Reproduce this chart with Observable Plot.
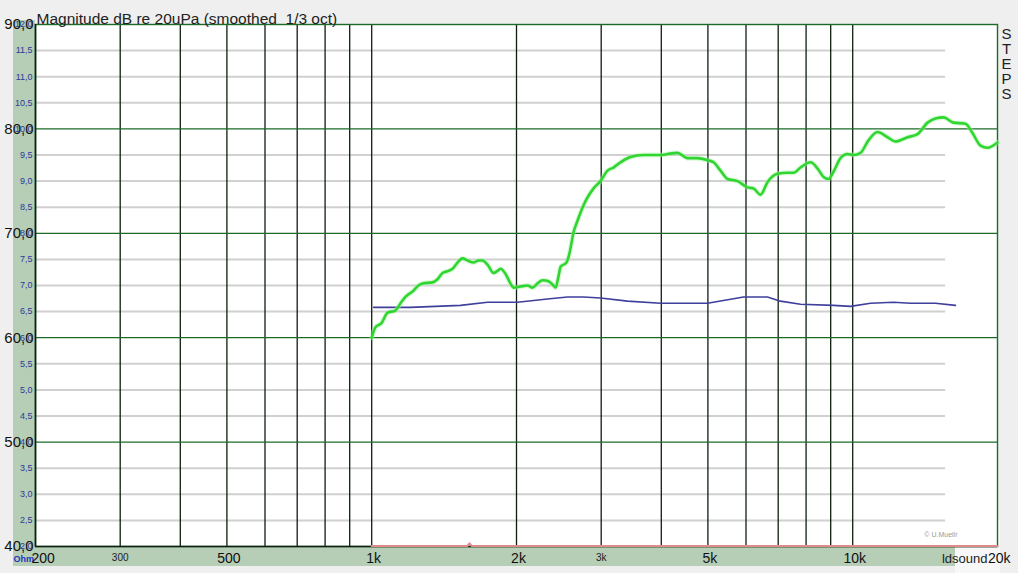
<!DOCTYPE html>
<html><head><meta charset="utf-8">
<script src="https://cdn.jsdelivr.net/npm/d3@7"></script>
<script src="https://cdn.jsdelivr.net/npm/@observablehq/plot@0.6"></script>
<style>
html,body{margin:0;padding:0;background:#efefef;}
#wrap{position:relative;width:1018px;height:573px;overflow:hidden;font-family:"Liberation Sans",Arial,sans-serif;}
.band{position:absolute;background:#b6cdb6;}
#chart{position:absolute;left:0;top:0;}
</style></head><body>
<div id="wrap">
<div class="band" style="left:13px;top:20px;width:22px;height:546px"></div>
<div class="band" style="left:13px;top:546px;width:942px;height:20px"></div>
<div style="position:absolute;left:955px;top:520px;width:45px;height:53px;background:#f8f8f8"></div>
<div id="chart"></div>
</div>
<script>
// Frequency response (green), smoothed 1/3 oct
const greenFreq = [1000,1018,1048,1079,1120,1148,1175,1221,1251,1275,1338,1370,1404,1444,1472,1508,1545,1582,1628,1667,1700,1741,1792,1826,1852,1898,1943,1971,2038,2108,2160,2212,2266,2332,2376,2411,2446,2470,2541,2578,2628,2678,2784,2892,2990,3092,3182,3290,3451,3673,3985,4121,4322,4535,4757,4991,5136,5311,5491,5762,6043,6218,6434,6650,6976,7320,7533,7789,8173,8451,8699,8905,9120,9433,9752,10036,10378,10784,11260,11814,12274,13003,13640,14308,14862,15444,16198,17160,17746,18438,19066,20000];
const greenDb = [60.0,61.0,61.4,62.4,62.6,63.3,63.9,64.5,65.0,65.2,65.3,65.6,66.2,66.4,66.6,67.2,67.6,67.4,67.2,67.4,67.4,67.0,66.2,66.4,66.6,66.1,65.2,64.8,64.9,65.0,64.8,65.2,65.5,65.4,65.1,64.8,65.9,66.8,67.2,68.1,70.1,71.2,73.1,74.3,75.0,76.0,76.3,76.8,77.3,77.5,77.5,77.6,77.7,77.2,77.2,77.0,76.8,76.0,75.2,75.0,74.4,74.3,73.7,74.9,75.7,75.8,75.8,76.3,76.8,76.2,75.4,75.2,75.9,77.2,77.6,77.5,77.7,78.9,79.7,79.2,78.8,79.2,79.5,80.6,81.0,81.1,80.6,80.5,79.6,78.4,78.2,78.7];
// Second curve (blue)
const blueFreq = [1009,1204,1530,1741,2010,2320,2553,2757,2990,3402,3985,4991,5930,6650,7077,7789,9120,9896,10890,12154,13190,14862,16354];
const blueDb = [62.9,62.9,63.1,63.4,63.4,63.7,63.9,63.9,63.8,63.5,63.3,63.3,63.9,63.9,63.5,63.2,63.1,63.0,63.3,63.4,63.3,63.3,63.1];
// Third trace at the floor (red)
const redFreq = [1000,1580,1597,1615,20000];
const redDb = [40.05,40.05,40.3,40.05,40.05];

// Grid and tick definitions
const vGridFreq = [300,400,500,600,700,800,900,1000,2000,3000,4000,5000,6000,7000,8000,9000,10000];
const majorDb = [80,70,60,50];
const minorDb = [87.5,85,82.5,77.5,75,72.5,67.5,65,62.5,57.5,55,52.5,47.5,45,42.5];
const leftDb = [90,80,70,60,50,40];
const leftLabels = ["90,0","80,0","70,0","60,0","50,0","40,0"];
const stepValues = [12.0,11.5,11.0,10.5,10.0,9.5,9.0,8.5,8.0,7.5,7.0,6.5,6.0,5.5,5.0,4.5,4.0,3.5,3.0,2.5,2.0];
const bigTickFreq = [500,1000,2000,5000,10000];
const bigTickLabels = ["500","1k","2k","5k","10k"];
const smallTickFreq = [300,3000];
const smallTickLabels = ["300","3k"];
const titleText = "Magnitude dB re 20uPa (smoothed  1/3 oct)";

const green = greenFreq.map((f,i)=>({f, db: greenDb[i]}));
const blue = blueFreq.map((f,i)=>({f, db: blueDb[i]}));
const red = redFreq.map((f,i)=>({f, db: redDb[i]}));
const stepToDb = v => 40 + (v - 2) * 5;

const chart = Plot.plot({
  width: 1018, height: 573,
  marginLeft: 35, marginRight: 21, marginTop: 24, marginBottom: 27,
  x: {type: "log", domain: [200, 20000], axis: null},
  y: {domain: [40, 90], axis: null},
  style: {background: "transparent", fontFamily: "Liberation Sans, Arial, sans-serif", overflow: "visible"},
  marks: [
    Plot.frame({fill: "white", stroke: null}),
    Plot.ruleY(minorDb, {x1: 200, x2: 15600, stroke: "#d0d0d0", strokeWidth: 2}),
    Plot.ruleX(vGridFreq, {stroke: "#0e1e0e", strokeWidth: 1.3}),
    Plot.ruleY(majorDb, {stroke: "#1c6a28", strokeWidth: 1.3}),
    Plot.frame({stroke: "#1c6a28", strokeWidth: 1.4}),
    Plot.ruleX([200], {stroke: "#0e1e0e", strokeWidth: 1.6}),
    Plot.ruleY([40], {stroke: "#0e1e0e", strokeWidth: 1.6}),
    Plot.line(red, {x: "f", y: "db", stroke: "#e08a8a", strokeWidth: 2}),
    Plot.line(blue, {x: "f", y: "db", stroke: "#3f3f9c", strokeWidth: 1.6}),
    Plot.line(green, {x: "f", y: "db", stroke: "#a8f0a8", strokeWidth: 5, strokeOpacity: 0.45, curve: "monotone-x"}),
    Plot.line(green, {x: "f", y: "db", stroke: "#30d630", strokeWidth: 2.6, curve: "monotone-x"}),
    // left labels
    Plot.text(leftDb, {y: d => d, text: (d, i) => leftLabels[i], frameAnchor: "left", dx: -2, textAnchor: "end", fontSize: 15, fill: "#111"}),
    Plot.text(stepValues, {y: stepToDb, text: v => v.toFixed(1).replace(".", ","), frameAnchor: "left", dx: -3, textAnchor: "end", fontSize: 9, fill: "#2b3a9c"}),
    Plot.text(["Ohm"], {frameAnchor: "bottom-left", dx: -22, dy: 15, textAnchor: "start", fontSize: 9, fontWeight: "bold", fill: "#2536c0"}),
    // bottom labels
    Plot.text(["200"], {frameAnchor: "bottom-left", dx: -4, dy: 16, textAnchor: "start", fontSize: 14, fill: "#111"}),
    Plot.text(bigTickFreq, {x: d => d, text: (d, i) => bigTickLabels[i], frameAnchor: "bottom", dx: 2, dy: 16, fontSize: 14, fill: "#111"}),
    Plot.text(smallTickFreq, {x: d => d, text: (d, i) => smallTickLabels[i], frameAnchor: "bottom", dy: 14, fontSize: 10, fill: "#222"}),
    Plot.text(["ldsound"], {frameAnchor: "bottom-right", dx: -10, dy: 16, textAnchor: "end", fontSize: 13, fill: "#222"}),
    Plot.text(["20k"], {frameAnchor: "bottom-right", dx: 13, dy: 16, textAnchor: "end", fontSize: 14, fill: "#111"}),
    // title, side label, copyright
    Plot.text([titleText], {frameAnchor: "top-left", dx: 1, dy: -12, textAnchor: "start", fontSize: 15.5, fill: "#222"}),
    Plot.text(["S\nT\nE\nP\nS"], {frameAnchor: "top-right", dx: 9, dy: 4, lineAnchor: "top", lineHeight: 1.0, textAnchor: "middle", fontSize: 15, fill: "#222"}),
    Plot.text(["© U.Muellr"], {frameAnchor: "bottom-right", dx: -40, dy: -10, textAnchor: "end", fontSize: 7, fill: "#9a9a9a"})
  ]
});
document.getElementById("chart").appendChild(chart);
</script>
</body></html>
